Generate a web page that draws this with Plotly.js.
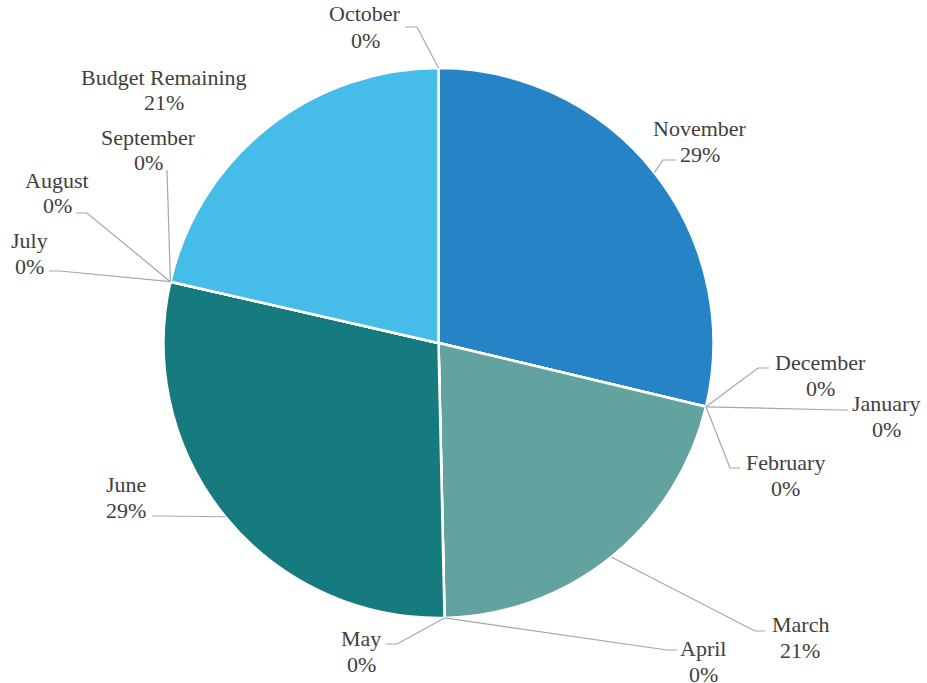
<!DOCTYPE html>
<html><head><meta charset="utf-8">
<script src="https://cdn.plot.ly/plotly-3.0.1.min.js"></script>
<style>
body{margin:0;background:#fff}
#chart{width:927px;height:683px}
#chart svg text{font-family:"Liberation Serif","Times New Roman",serif !important}
</style>
</head><body><div id="chart"></div>
<script>
// ---- data ----
const categories = ["October","November","December","January","February","March","April","May","June","July","August","September","Budget Remaining"];
const values = [0, 28.7, 0, 0, 0, 20.9, 0, 0, 28.9, 0, 0, 0, 21.4];

// ---- styles / layout (not data) ----
const sliceColors = ["#1F77B4","#2683C6","#4C9FD6","#5BA7B5","#4E8F8C","#62A39F","#3F8F8C","#1B8A8E","#167B7E","#2E9CCB","#37A9DB","#3FB3E3","#46BCE9"];
const W = 927, H = 683;
const CX = 438.5, CY = 343, R = 275;
// label text centre (first line) in px, and leader line: [labelEndX, labelEndY, elbowX] (null = no line)
const labelPos = [
  [365, 14], [700, 128], [820, 362], [886, 403], [785, 462], [800, 624], [703, 648],
  [361, 638], [126, 484], [30, 240], [57, 180], [148, 137], [164, 77]
];
const leaders = [
  [405, 27, 417], [676, 160, 663], [769, 368, 758], [848, 410, 840], [740, 468, 730], [765, 631, 755], [677, 650, 667],
  [386, 644, 397], [152, 516, 162], [49, 271, 60], [76, 213, 87], [167, 170, 167], null
];
const LINE_GAP = 26;
const FONT_FAMILY = "Liberation Serif";

const px = x => x / W;
const py = y => 1 - y / H;
const mkFont = () => ({family: FONT_FAMILY, size: 22, color: "#404040"});

const total = values.reduce((a, b) => a + b, 0);
let cum = 0;
const annotations = [];
const shapes = [];
categories.forEach((c, i) => {
  const a0 = cum / total * 2 * Math.PI;
  cum += values[i];
  const a1 = cum / total * 2 * Math.PI;
  const mid = (a0 + a1) / 2;
  const ax = CX + R * Math.sin(mid), ay = CY - R * Math.cos(mid);
  const pct = Math.round(values[i] / total * 100) + "%";
  const [lx, ly] = labelPos[i];
  annotations.push({xref: "paper", yref: "paper", x: px(lx), y: py(ly), text: c, showarrow: false, xanchor: "center", yanchor: "middle", font: mkFont()});
  annotations.push({xref: "paper", yref: "paper", x: px(lx), y: py(ly + LINE_GAP), text: pct, showarrow: false, xanchor: "center", yanchor: "middle", font: mkFont()});
  const L = leaders[i];
  if (L) {
    const [ex, ey, bx] = L;
    shapes.push({type: "path", xref: "paper", yref: "paper",
      path: `M ${px(ex)} ${py(ey)} L ${px(bx)} ${py(ey)} L ${px(ax)} ${py(ay)}`,
      line: {color: "#A6A6A6", width: 1.2}});
  }
});

const trace = {
  type: "pie",
  labels: categories,
  values: values,
  sort: false,
  direction: "clockwise",
  rotation: 0,
  textinfo: "none",
  marker: {colors: sliceColors, line: {color: "#FFFFFF", width: 2.5}},
  domain: {x: [px(CX - R), px(CX + R)], y: [py(CY + R), py(CY - R)]},
  showlegend: false
};

Plotly.newPlot("chart", [trace], {
  width: W, height: H,
  margin: {l: 0, r: 0, t: 0, b: 0},
  paper_bgcolor: "#FFFFFF",
  font: {family: FONT_FAMILY},
  showlegend: false,
  annotations: annotations, shapes: shapes
}, {displayModeBar: false});
</script>
</body></html>
